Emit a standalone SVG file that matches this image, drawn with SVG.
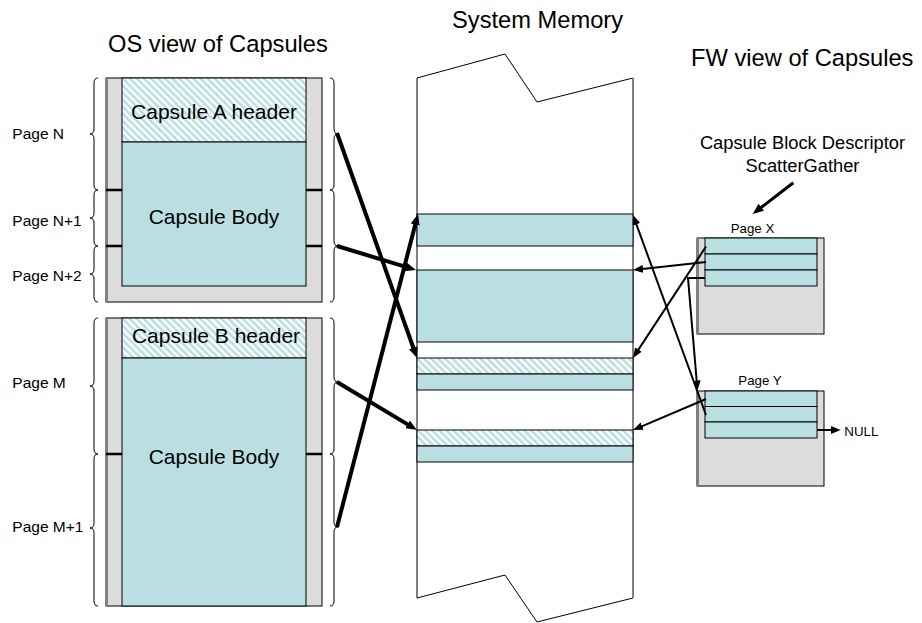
<svg xmlns="http://www.w3.org/2000/svg" width="922" height="623" viewBox="0 0 922 623">
<style>
text{font-family:"Liberation Sans",Arial,sans-serif;fill:#000}
.title{font-size:23.7px}
.cap{font-size:21px}
.page{font-size:15.5px}
.small{font-size:13.3px}
.desc{font-size:18.3px}
.gray{fill:#dcdcdc;stroke:#000;stroke-width:1}
.blue{fill:#b9dfe3;stroke:#000;stroke-width:1}
.hatch{fill:url(#hatch);stroke:#000;stroke-width:1}
.brace{fill:none;stroke:#000;stroke-width:1}
.tick{stroke:#000;stroke-width:2.5}
.thick{fill:none;stroke:#000;stroke-width:4;marker-end:url(#ahThick)}
.thin{fill:none;stroke:#000;stroke-width:2;marker-end:url(#ahThin)}
.med{fill:none;stroke:#000;stroke-width:3;marker-end:url(#ahThick)}
.shadow{stroke:#808080;stroke-width:2}
</style>
<defs>
<pattern id="hatch" patternUnits="userSpaceOnUse" width="5" height="5" patternTransform="rotate(-45)">
<rect width="5" height="5" fill="#ffffff"/>
<rect width="2.6" height="5" fill="#b9dfe3"/>
</pattern>
<marker id="ahThick" markerUnits="userSpaceOnUse" viewBox="0 0 11 9" markerWidth="11" markerHeight="9" refX="3" refY="4.5" orient="auto">
<path d="M0,0 L11,4.5 L0,9 z" fill="#000"/>
</marker>
<marker id="ahThin" markerUnits="userSpaceOnUse" viewBox="0 0 10 8" markerWidth="10" markerHeight="8" refX="3" refY="4" orient="auto">
<path d="M0,0 L10,4 L0,8 z" fill="#000"/>
</marker>
</defs>

<rect width="922" height="623" fill="#ffffff"/>

<text class="title" x="108" y="51.5">OS view of Capsules</text>
<text class="title" x="452" y="28.3">System Memory</text>
<text class="title" x="691" y="65.7">FW view of Capsules</text>

<g id="capsuleA">
<rect class="gray" x="106" y="78" width="216" height="224"/>
<line class="shadow" x1="107" y1="78" x2="107" y2="302"/>
<rect class="hatch" x="122" y="78" width="184" height="64"/>
<rect class="blue" x="122" y="142" width="184" height="144"/>
<line class="tick" x1="106" y1="190" x2="122" y2="190"/>
<line class="tick" x1="306" y1="190" x2="322" y2="190"/>
<line class="tick" x1="106" y1="246" x2="122" y2="246"/>
<line class="tick" x1="306" y1="246" x2="322" y2="246"/>
<text class="cap" x="214" y="119.3" text-anchor="middle">Capsule A header</text>
<text class="cap" x="214" y="224" text-anchor="middle">Capsule Body</text>
</g>

<g id="capsuleB">
<rect class="gray" x="106" y="318" width="216" height="288"/>
<line class="shadow" x1="107" y1="318" x2="107" y2="606"/>
<rect class="hatch" x="122" y="318" width="184" height="40"/>
<rect class="blue" x="122" y="358" width="184" height="248"/>
<line class="tick" x1="106" y1="454" x2="122" y2="454"/>
<line class="tick" x1="306" y1="454" x2="322" y2="454"/>
<text class="cap" x="216" y="343.3" text-anchor="middle">Capsule B header</text>
<text class="cap" x="214" y="464.3" text-anchor="middle">Capsule Body</text>
</g>

<g id="pageLabels">
<text class="page" x="12.3" y="139">Page N</text>
<text class="page" x="12.3" y="225.5">Page N+1</text>
<text class="page" x="12.3" y="280.5">Page N+2</text>
<text class="page" x="12.3" y="387.5">Page M</text>
<text class="page" x="12.3" y="531.5">Page M+1</text>
</g>

<g id="braces">
<path class="brace" d="M98,78 Q94,78 94,83 L94,129 Q94,134 90,134 Q94,134 94,139 L94,185 Q94,190 98,190"/>
<path class="brace" d="M98,190 Q94,190 94,195 L94,213 Q94,218 90,218 Q94,218 94,223 L94,241 Q94,246 98,246"/>
<path class="brace" d="M98,246 Q94,246 94,251 L94,269 Q94,274 90,274 Q94,274 94,279 L94,297 Q94,302 98,302"/>
<path class="brace" d="M98,318 Q94,318 94,323 L94,381 Q94,386 90,386 Q94,386 94,391 L94,449 Q94,454 98,454"/>
<path class="brace" d="M98,454 Q94,454 94,459 L94,523 Q94,528 90,528 Q94,528 94,533 L94,601 Q94,606 98,606"/>
<path class="brace" d="M330,78 Q334,78 334,83 L334,129 Q334,134 338,134 Q334,134 334,139 L334,185 Q334,190 330,190"/>
<path class="brace" d="M330,190 Q334,190 334,195 L334,241 Q334,246 338,246 Q334,246 334,251 L334,297 Q334,302 330,302"/>
<path class="brace" d="M330,318 Q334,318 334,323 L334,377 Q334,382 338,382 Q334,382 334,387 L334,449 Q334,454 330,454"/>
<path class="brace" d="M330,454 Q334,454 334,459 L334,522 Q334,527 338,527 Q334,527 334,532 L334,601 Q334,606 330,606"/>
</g>

<g id="systemMemory">
<path d="M417,78 L505,54 L537,102 L633,78 L633,598 L537,622 L505,575 L417,598 Z" fill="#ffffff" stroke="#000" stroke-width="1"/>
<line x1="633" y1="78" x2="633" y2="598" stroke="#808080" stroke-width="1.5"/>
<rect class="blue" x="417" y="214" width="216" height="32"/>
<rect class="blue" x="417" y="270" width="216" height="72"/>
<rect class="hatch" x="417" y="358" width="216" height="16"/>
<rect class="blue" x="417" y="374" width="216" height="16"/>
<rect class="hatch" x="417" y="430" width="216" height="16"/>
<rect class="blue" x="417" y="446" width="216" height="16"/>
</g>

<g id="pageX">
<text class="small" x="752.5" y="233.3" text-anchor="middle">Page X</text>
<rect class="gray" x="697" y="238" width="127" height="96"/>
<line class="shadow" x1="698" y1="238" x2="698" y2="334"/>
<rect class="blue" x="705" y="238" width="112" height="16"/>
<rect class="blue" x="705" y="254" width="112" height="16"/>
<rect class="blue" x="705" y="270" width="112" height="16"/>
</g>

<g id="pageY">
<text class="small" x="760" y="385" text-anchor="middle">Page Y</text>
<rect class="gray" x="697" y="391" width="127" height="95"/>
<line class="shadow" x1="698" y1="391" x2="698" y2="486"/>
<rect class="blue" x="705" y="391" width="112" height="15.5"/>
<rect class="blue" x="705" y="406.5" width="112" height="15.5"/>
<rect class="blue" x="705" y="422" width="112" height="16"/>
<text class="small" x="844.3" y="436">NULL</text>
</g>

<g id="descriptorLabel">
<text class="desc" x="802.5" y="149.3" text-anchor="middle">Capsule Block Descriptor</text>
<text class="desc" x="802.5" y="171.7" text-anchor="middle">ScatterGather</text>
</g>

<g id="connectors">
<path class="thick" d="M337,133 L414.3,350.5"/>
<path class="thick" d="M337,246 L408.3,267.7"/>
<path class="thick" d="M337,382 L410.1,425.9"/>
<path class="thick" d="M337,527 L416,221.7"/>
<path class="thin" d="M706,262 L640,269.2"/>
<path class="thin" d="M706,246.5 L636.8,352.1"/>
<path class="thin" d="M705,278 L688,278 L696.9,383.5"/>
<path class="thin" d="M706,399 L639.4,427.3"/>
<path class="thin" d="M706,415 L635.4,221.6"/>
<path class="thin" d="M817,430 L833.7,430"/>
<path class="med" d="M793.3,182.7 L759,209.1"/>
</g>
</svg>
